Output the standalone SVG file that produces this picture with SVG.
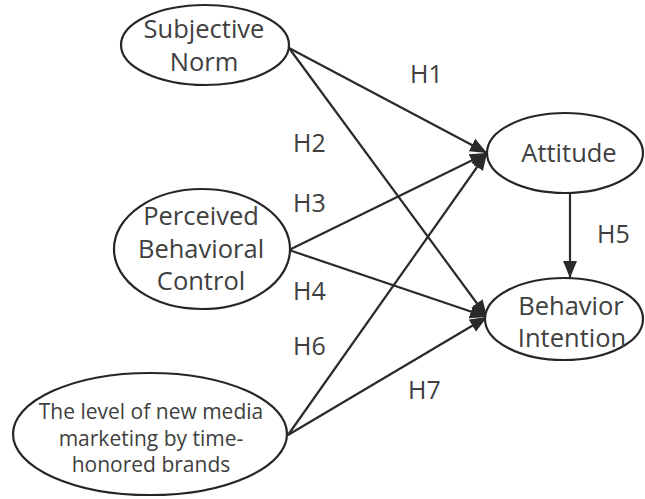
<svg xmlns="http://www.w3.org/2000/svg" width="645" height="499" viewBox="0 0 645 499">
  <style>
    .node { fill: #ffffff; stroke: #262626; stroke-width: 2.2; }
    .label { font-family: "Open Sans", "Noto Sans", "DejaVu Sans", sans-serif; font-size: 25.5px; fill: #404040; text-anchor: middle; }
    .small { font-size: 21px; }
    .hyp { font-family: "Open Sans", "Noto Sans", "DejaVu Sans", sans-serif; font-size: 25px; fill: #404040; }
    .edge { stroke: #2a2a2a; stroke-width: 2.2; fill: none; marker-end: url(#arrow); }
  </style>
  <defs>
    <marker id="arrow" markerUnits="userSpaceOnUse" markerWidth="20" markerHeight="16" refX="17" refY="8" orient="auto">
      <path d="M0,1 L17,8 L0,15 Z" fill="#2a2a2a"/>
    </marker>
  </defs>

  <rect width="645" height="499" fill="#ffffff"/>

  <g id="connectors">
    <line class="edge" x1="289" y1="48" x2="487" y2="153"/>
    <line class="edge" x1="289" y1="48" x2="487" y2="317"/>
    <line class="edge" x1="289" y1="250" x2="487" y2="153"/>
    <line class="edge" x1="289" y1="250" x2="487" y2="317"/>
    <line class="edge" x1="288" y1="435" x2="487" y2="153"/>
    <line class="edge" x1="288" y1="435" x2="487" y2="317"/>
    <line class="edge" x1="570" y1="193" x2="570" y2="278"/>
  </g>

  <g id="hypothesis-labels">
    <text class="hyp" x="410" y="83">H1</text>
    <text class="hyp" x="293" y="152">H2</text>
    <text class="hyp" x="293" y="212">H3</text>
    <text class="hyp" x="293" y="300">H4</text>
    <text class="hyp" x="597" y="243">H5</text>
    <text class="hyp" x="293" y="355">H6</text>
    <text class="hyp" x="408" y="399">H7</text>
  </g>

  <g id="subjective-norm">
    <ellipse class="node" cx="205" cy="45" rx="84" ry="40"/>
    <text class="label" x="204" y="38">Subjective</text>
    <text class="label" x="204" y="71">Norm</text>
  </g>

  <g id="perceived-behavioral-control">
    <ellipse class="node" cx="202" cy="249" rx="88" ry="60"/>
    <text class="label" x="201" y="225">Perceived</text>
    <text class="label" x="201" y="258">Behavioral</text>
    <text class="label" x="201" y="290">Control</text>
  </g>

  <g id="new-media-marketing">
    <ellipse class="node" cx="150" cy="434" rx="137" ry="61"/>
    <text class="label small" x="151" y="419">The level of new media</text>
    <text class="label small" x="151" y="445.5">marketing by time-</text>
    <text class="label small" x="151" y="472">honored brands</text>
  </g>

  <g id="attitude">
    <ellipse class="node" cx="565" cy="153" rx="78" ry="40"/>
    <text class="label" x="569" y="162">Attitude</text>
  </g>

  <g id="behavior-intention">
    <ellipse class="node" cx="564" cy="319" rx="79" ry="41"/>
    <text class="label" x="571" y="315">Behavior</text>
    <text class="label" x="572" y="347">Intention</text>
  </g>
</svg>
